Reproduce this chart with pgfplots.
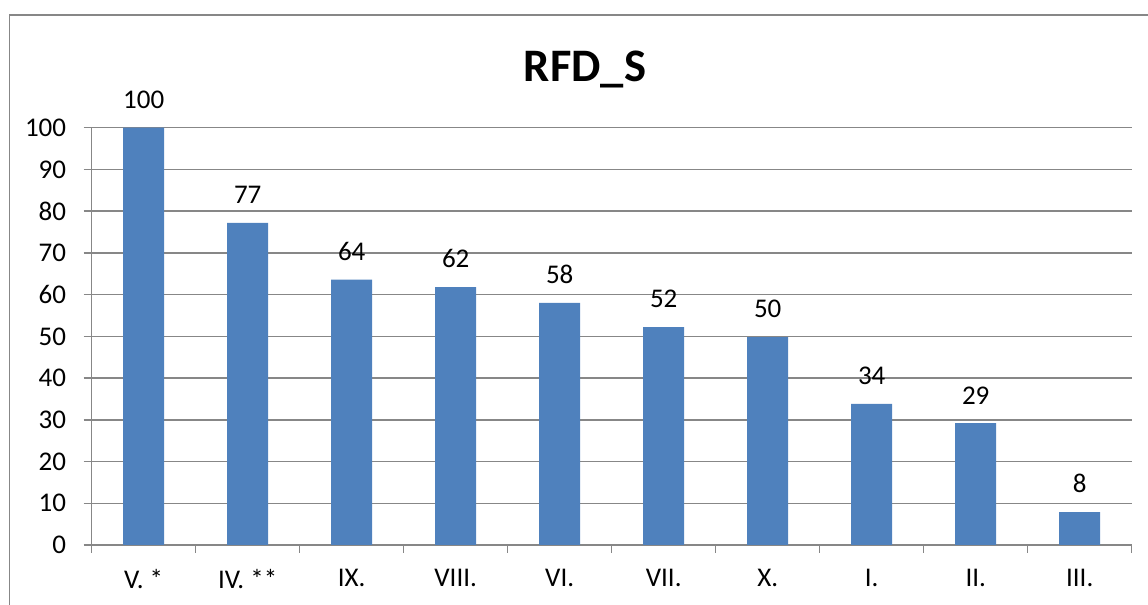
\documentclass[border=0pt]{standalone}
\usepackage{pgfplots}
\pgfplotsset{compat=1.18}
\usepackage{fontspec}
\setmainfont{Carlito}
\definecolor{barblue}{HTML}{4F81BD}
\definecolor{gridgray}{HTML}{878787}
\begin{document}
\begin{tikzpicture}
\useasboundingbox (0,0) rectangle (574pt,302.5pt);
\draw[gridgray, line width=0.8pt] (4.75pt,-2pt) -- (4.75pt,295pt) -- (576pt,295pt);
\begin{axis}[
  at={(45.85pt,30pt)}, anchor=south west,
  scale only axis, width=520pt, height=208.65pt,
  xmin=-0.5, xmax=9.5, ymin=0, ymax=100,
  axis x line=bottom, axis y line=left,
  axis line style={gridgray, line width=0.75pt, -},
  ybar, bar width=20.5pt,
  xtick={0,...,9},
  xticklabels={V. *, IV. **, IX., VIII., VI., VII., X., I., II., III.},
  major x tick style={draw=none},
  minor xtick={-0.5,0.5,...,9.5},
  minor tick length=4pt,
  minor x tick style={gridgray, line width=0.75pt},
  ytick={0,10,...,100},
  major tick length=4pt,
  tick align=outside,
  major y tick style={gridgray, line width=0.75pt},
  ymajorgrids, grid style={gridgray, line width=0.75pt},
  tick label style={font=\fontsize{13.5}{16}\selectfont},
  /pgf/number format/assume math mode=true,
  yticklabel style={anchor=east, inner sep=0pt, xshift=-8.6pt},
  xticklabel style={anchor=north, inner sep=0pt, yshift=-8.1pt},
  nodes near coords={\pgfmathprintnumber[fixed, precision=0]{\pgfplotspointmeta}},
  nodes near coords style={font=\fontsize{13.5}{16}\selectfont, anchor=south, inner sep=0pt, yshift=9.3pt},
]
\addplot[fill=barblue, draw=none] coordinates {
  (0,100) (1,77.2) (2,63.6) (3,61.8) (4,58.0) (5,52.2) (6,49.8) (7,33.8) (8,29.2) (9,7.9)
};
\end{axis}
\node[anchor=base, font=\fontsize{23.3}{28}\selectfont\bfseries] at (292.5pt,261.5pt) {RFD\_S};
\end{tikzpicture}
\end{document}
